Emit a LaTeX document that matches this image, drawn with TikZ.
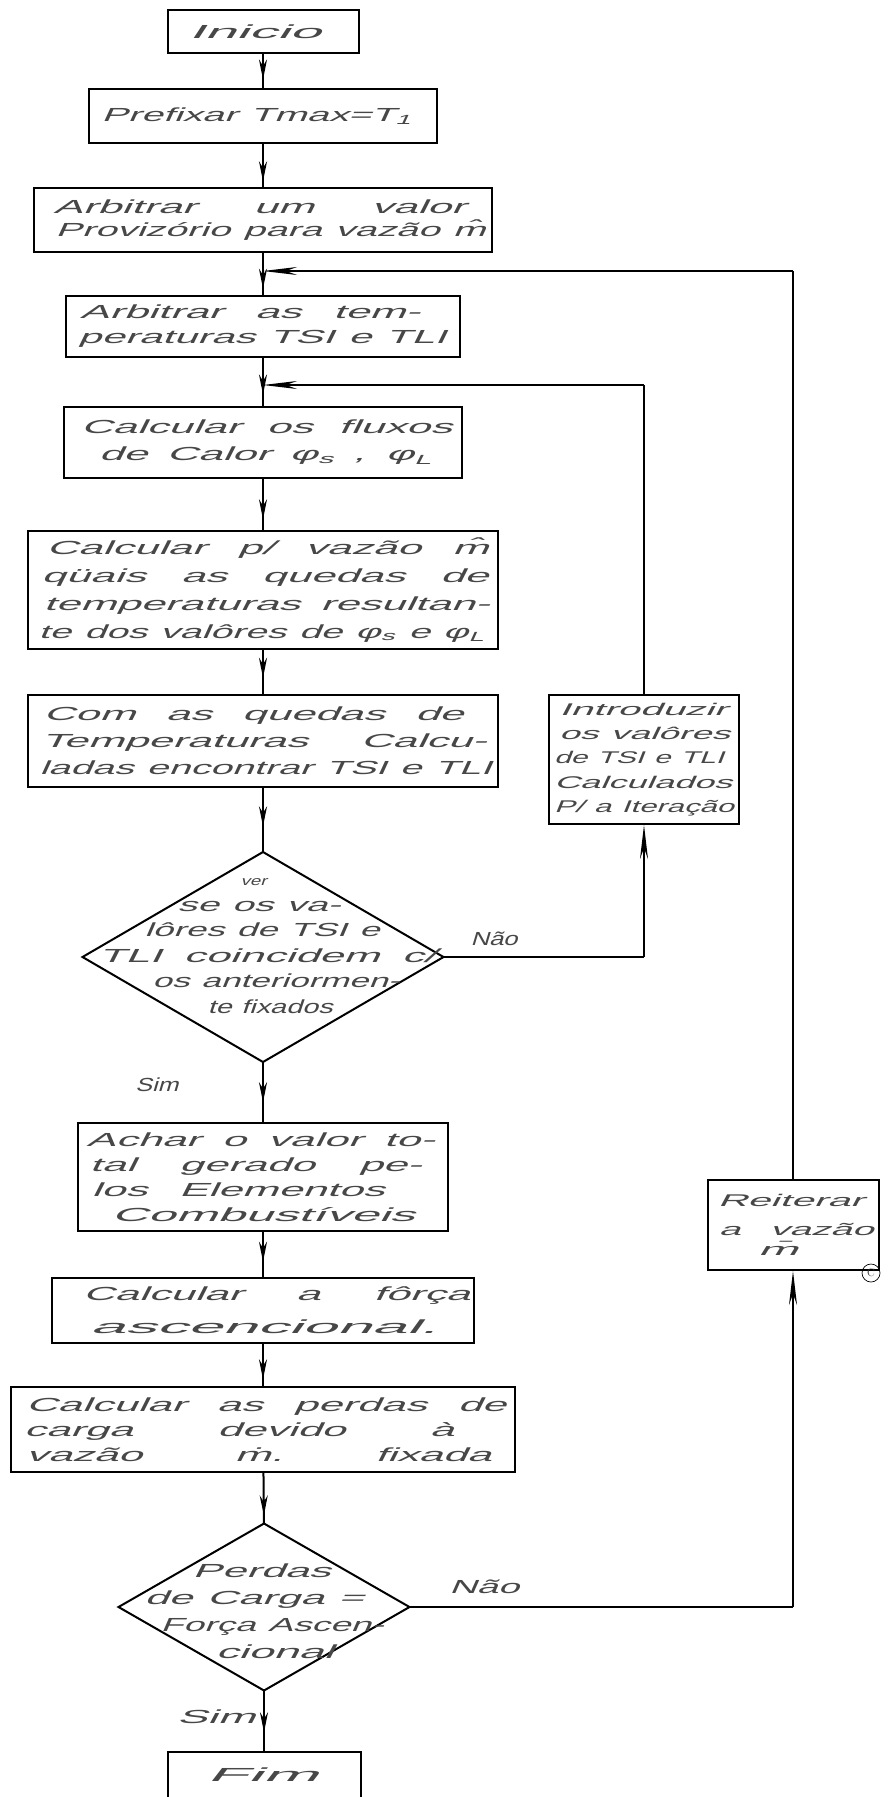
\documentclass[tikz,border=0pt]{standalone}
\usepackage{fontspec}
\usepackage{graphicx}
\newfontfamily\hand{Liberation Sans}[FakeSlant=0.22]
\usetikzlibrary{shapes.geometric,arrows.meta,decorations.markings}
% one handwritten word: offset from the box's left edge, width, text
\newcommand{\hl}[3]{\hspace*{#1bp}\resizebox{#2bp}{\height}{#3}}
% one handwritten line of several words: letters widened (at most 2.3 times), gaps spread
\newlength\hjnat
\newcommand{\hj}[3]{\hspace*{#1bp}\settowidth{\hjnat}{#3}%
  \ifdim\dimexpr #2bp*10/23\relax>\hjnat
    \resizebox{#2bp}{\height}{\makebox[\dimexpr #2bp*10/23\relax][s]{\spaceskip=.28em plus 1fil\xspaceskip=.28em plus 1fil\relax #3}}%
  \else
    \resizebox{#2bp}{\height}{#3}%
  \fi}
\begin{document}
\begin{tikzpicture}[x=1bp,y=-1bp,
  txt/.style={text=black!72, font=\hand\fontsize{19}{26}\selectfont},
  box/.style={draw, line width=2bp, inner sep=0pt, align=left, txt},
  dia/.style={draw, line width=2bp, diamond, inner sep=0pt, outer sep=0pt},
  diatext/.style={align=left, inner sep=0pt, txt},
  lab/.style={inner sep=0pt, txt},
  conn/.style={line width=2bp},
  midarr/.style={postaction={decorate}, decoration={markings, mark=at position #1 with {\arrow{Stealth[length=20bp,width=8bp]}}}},
  arrowend/.style={-{Stealth[length=34bp,width=8bp]}}
]
\clip (0,0) rectangle (890,1797);
\fill[white] (0,0) rectangle (890,1797);

% main column
\node[box, text width=191bp, minimum height=43bp] (ini) at (263,31.5) {\hl{21}{132}{Inicio}};
\node[box, text width=347bp, minimum height=54bp] (pre) at (263,116) {\hj{12}{310}{Prefixar Tmax=T\textsubscript{1}}};
\node[box, text width=457bp, minimum height=64bp, font=\hand\fontsize{19}{23.5}\selectfont] (arb1) at (263,220)
  {\hj{19}{412}{Arbitrar um valor}\\\hj{21}{430}{Provizório para vazão m̂}};
\node[box, text width=394bp, minimum height=61bp, font=\hand\fontsize{19}{25}\selectfont] (arb2) at (263,326.5)
  {\hj{14}{340}{Arbitrar as tem-}\\\hj{12}{368}{peraturas TSI e TLI}};
\node[box, text width=398bp, minimum height=71bp, font=\hand\fontsize{19}{27}\selectfont] (flx) at (263,442.5)
  {\hj{17}{371}{Calcular os fluxos}\\\hj{35}{333}{de Calor φ\textsubscript{s} , φ\textsubscript{L}}};
\node[box, text width=469bp, minimum height=118bp, font=\hand\fontsize{19}{28}\selectfont] (cpv) at (263,590)
  {\hj{18}{442}{Calcular p/ vazão m̂}\\\hj{13}{447}{qüais as quedas de}\\\hj{15}{446}{temperaturas resultan-}\\\hj{10}{446}{te dos valôres de φ\textsubscript{s} e φ\textsubscript{L}}};
\node[box, text width=469bp, minimum height=92bp, font=\hand\fontsize{19}{27}\selectfont] (com) at (263,741)
  {\hj{15}{420}{Com as quedas de}\\\hj{13}{445}{Temperaturas Calcu-}\\\hj{11}{452}{ladas encontrar TSI e TLI}};
\node[dia, minimum width=361bp, minimum height=210bp] (d1) at (263,957) {};
\node[diatext, text width=361bp, font=\hand\fontsize{19}{25.6}\selectfont] (d1t) at (263,946)
  {\hl{158}{26}{\fontsize{13}{14}\selectfont ver}\\\hj{95}{163}{se os va-}\\\hj{62}{235}{lôres de TSI e}\\\hj{16}{337}{TLI coincidem c/}\\\hj{70}{247}{os anteriormen-}\\\hj{125}{125}{te fixados}};
\node[box, text width=369bp, minimum height=108bp, font=\hand\fontsize{19}{25}\selectfont] (ach) at (263,1177)
  {\hj{8}{348}{Achar o valor to-}\\\hj{11}{332}{tal gerado pe-}\\\hj{13}{293}{los Elementos}\\\hl{33}{303}{Combustíveis}};
\node[box, text width=422bp, minimum height=65bp, font=\hand\fontsize{19}{33}\selectfont] (frc) at (263,1310.5)
  {\hj{31}{387}{Calcular a fôrça}\\\hl{38}{347}{ascencional.}};
\node[box, text width=504bp, minimum height=85bp, font=\hand\fontsize{19}{25}\selectfont] (per) at (263,1429.5)
  {\hj{15}{480}{Calcular as perdas de}\\\hj{13}{430}{carga devido à}\\\hj{15}{465}{vazão ṁ. fixada}};
\node[dia, minimum width=291bp, minimum height=167bp] (d2) at (264,1607) {};
\node[diatext, text width=291bp, font=\hand\fontsize{19}{27}\selectfont] (d2t) at (264,1611)
  {\hl{74}{138}{Perdas}\\\hj{26}{219}{de Carga =}\\\hj{42}{223}{Força Ascen-}\\\hl{97}{118}{cional}};
\node[box, text width=193bp, minimum height=46bp] (fim) at (264,1775) {\hl{39}{111}{Fim}};

% side boxes
\node[box, text width=190bp, minimum height=129bp, font=\hand\fontsize{17}{24.5}\selectfont] (intro) at (644,759.5)
  {\hl{10}{168}{Introduzir}\\\hj{10}{171}{os valôres}\\\hj{5}{170}{de TSI e TLI}\\\hl{5}{178}{Calculados}\\\hj{5}{180}{P/ a Iteração}};
\node[box, text width=171bp, minimum height=90bp, font=\hand\fontsize{17}{29}\selectfont] (rei) at (793,1225)
  {\hl{10}{146}{Reiterar}\\\hj{11}{155}{a vazão}\\[-9bp]\hl{50}{40}{m̄}};
\node[circle, draw, line width=0.7bp, minimum size=18bp, inner sep=0pt, text=black!80, font=\fontsize{11}{11}\selectfont] (cmark) at (871,1273) {C};

% labels
\node[lab] (nao1) at (494,939) {\resizebox{47bp}{\height}{Não}};
\node[lab] (sim1) at (157,1085) {\resizebox{43bp}{\height}{Sim}};
\node[lab] (nao2) at (484,1587) {\resizebox{70bp}{\height}{Não}};
\node[lab] (sim2) at (216,1717) {\resizebox{78bp}{\height}{Sim}};

% main connectors
\draw[conn, midarr=0.75] (ini) -- (pre);
\draw[conn, midarr=0.87] (pre) -- (arb1);
\draw[conn, midarr=0.85] (arb1) -- (arb2);
\draw[conn, midarr=0.76] (arb2) -- (flx);
\draw[conn, midarr=0.79] (flx) -- (cpv);
\draw[conn, midarr=0.63] (cpv) -- (com);
\draw[conn, midarr=0.6] (com) -- (d1.north);
\draw[conn, midarr=0.67] (d1.south) -- (ach);
\draw[conn, midarr=0.66] (ach) -- (frc);
\draw[conn, midarr=0.84] (frc) -- (per);
\draw[conn, midarr=0.84] (per) -- (d2.north);
\draw[conn, midarr=0.69] (d2.south) -- (fim);

% inner loop
\coordinate (c2) at (644,957);
\coordinate (c3) at (644,385);
\coordinate (j2) at (263,385);
\draw[conn] (d1.east) -- (c2);
\draw[conn, arrowend] (c2) -- (intro.south);
\draw[conn] (intro.north) -- (c3);
\draw[conn, arrowend] (c3) -- (j2);

% outer loop
\coordinate (c4) at (793,1607);
\coordinate (c5) at (793,271);
\coordinate (j1) at (263,271);
\draw[conn] (d2.east) -- (c4);
\draw[conn, arrowend] (c4) -- (rei.south);
\draw[conn] (rei.north) -- (c5);
\draw[conn, arrowend] (c5) -- (j1);
\end{tikzpicture}
\end{document}
